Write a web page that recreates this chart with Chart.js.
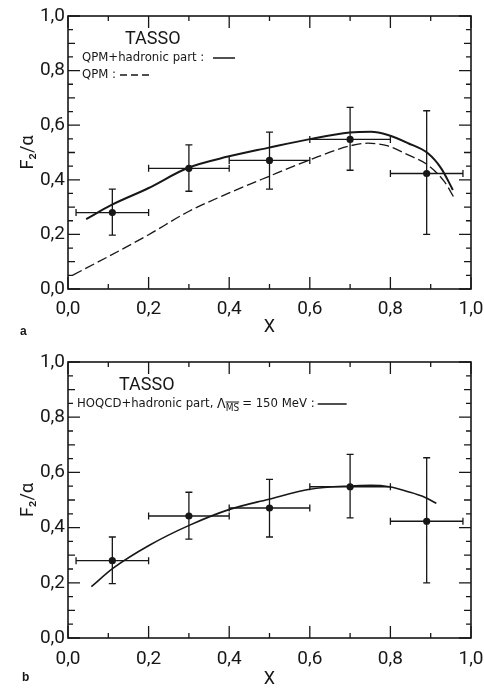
<!DOCTYPE html>
<html>
<head>
<meta charset="utf-8">
<script src="https://cdn.jsdelivr.net/npm/chart.js@4.4.1/dist/chart.umd.min.js"></script>
<style>
  body { margin: 0; background: #fff; width: 484px; height: 690px; overflow: hidden; position: relative; }
  canvas { position: absolute; left: 0; }
  #panelA { top: 0; }
  #panelB { top: 345px; }
</style>
</head>
<body>
<canvas id="panelA" width="484" height="345"></canvas>
<canvas id="panelB" width="484" height="345"></canvas>
<script>
// TASSO data points (same in both panels), x with bin range, y with error
const ptX   = [0.11, 0.30, 0.50, 0.70, 0.89];
const ptY   = [0.280, 0.442, 0.471, 0.548, 0.423];
const ptXlo = [0.02, 0.20, 0.40, 0.60, 0.80];
const ptXhi = [0.20, 0.40, 0.60, 0.80, 0.98];
const ptYlo = [0.197, 0.358, 0.366, 0.435, 0.200];
const ptYhi = [0.366, 0.528, 0.575, 0.665, 0.653];

// panel a : QPM + hadronic part (solid) and QPM (dashed)
const solidAx = [0.045, 0.108, 0.199, 0.298, 0.397, 0.496, 0.600, 0.699, 0.752, 0.794, 0.844, 0.893, 0.926, 0.955];
const solidAy = [0.256, 0.308, 0.369, 0.444, 0.485, 0.517, 0.549, 0.573, 0.576, 0.564, 0.534, 0.497, 0.442, 0.363];
const dashAx  = [0.012, 0.099, 0.199, 0.298, 0.397, 0.496, 0.600, 0.699, 0.744, 0.794, 0.844, 0.893, 0.934, 0.959];
const dashAy  = [0.051, 0.118, 0.198, 0.283, 0.350, 0.411, 0.473, 0.524, 0.534, 0.524, 0.491, 0.454, 0.393, 0.332];

// panel b : HOQCD + hadronic part
const solidBx = [0.058, 0.112, 0.203, 0.302, 0.401, 0.496, 0.600, 0.699, 0.752, 0.797, 0.844, 0.885, 0.914];
const solidBy = [0.186, 0.253, 0.337, 0.409, 0.466, 0.502, 0.539, 0.551, 0.553, 0.548, 0.530, 0.510, 0.488];

// axis ticks
const xTickVals  = [0, 0.2, 0.4, 0.6, 0.8, 1.0];
const yTickVals  = [0, 0.2, 0.4, 0.6, 0.8, 1.0];
const xMinorVals = [0.1, 0.3, 0.5, 0.7, 0.9];
const yMinorVals = [0.05, 0.1, 0.15, 0.25, 0.3, 0.35, 0.45, 0.5, 0.55, 0.65, 0.7, 0.75, 0.85, 0.9, 0.95];

const INK = '#171717';
const FONT = 'Roboto, "DejaVu Sans Condensed", sans-serif';
const SMALL = '"DejaVu Sans Condensed", "Liberation Sans", sans-serif';

const fmt = v => (Math.round(v * 10) / 10).toFixed(1).replace('.', ',');
const pts = (xs, ys) => xs.map((x, i) => ({x: x, y: ys[i]}));

// box round the plot and inward ticks on all four sides
const frameTicks = {
  id: 'frameTicks',
  afterDraw(chart) {
    const {ctx, chartArea: a, scales: {x, y}} = chart;
    ctx.save();
    ctx.strokeStyle = INK;
    ctx.lineWidth = 1.6;
    ctx.strokeRect(a.left, a.top, a.right - a.left, a.bottom - a.top);
    ctx.lineWidth = 1.3;
    ctx.beginPath();
    const xt = (v, len) => {
      const p = x.getPixelForValue(v);
      ctx.moveTo(p, a.bottom); ctx.lineTo(p, a.bottom - len);
      ctx.moveTo(p, a.top); ctx.lineTo(p, a.top + len);
    };
    const yt = (v, len) => {
      const p = y.getPixelForValue(v);
      ctx.moveTo(a.left, p); ctx.lineTo(a.left + len, p);
      ctx.moveTo(a.right, p); ctx.lineTo(a.right - len, p);
    };
    xTickVals.forEach(v => xt(v, 12));
    xMinorVals.forEach(v => xt(v, 5));
    yTickVals.forEach(v => yt(v, 12));
    yMinorVals.forEach(v => yt(v, Math.abs(v * 10 - Math.round(v * 10)) < 1e-6 ? 7 : 5));
    ctx.stroke();
    ctx.restore();
  }
};

// x and y error bars with small caps
const errorBars = {
  id: 'errorBars',
  beforeDatasetsDraw(chart) {
    const {ctx, scales: {x, y}} = chart;
    ctx.save();
    ctx.strokeStyle = INK;
    ctx.lineWidth = 1.3;
    ctx.beginPath();
    ptX.forEach((v, i) => {
      const px = x.getPixelForValue(v), py = y.getPixelForValue(ptY[i]);
      const x0 = x.getPixelForValue(ptXlo[i]), x1 = x.getPixelForValue(ptXhi[i]);
      const y0 = y.getPixelForValue(ptYlo[i]), y1 = y.getPixelForValue(ptYhi[i]);
      ctx.moveTo(x0, py); ctx.lineTo(x1, py);
      ctx.moveTo(x0, py - 3.5); ctx.lineTo(x0, py + 3.5);
      ctx.moveTo(x1, py - 3.5); ctx.lineTo(x1, py + 3.5);
      ctx.moveTo(px, y0); ctx.lineTo(px, y1);
      ctx.moveTo(px - 3.5, y0); ctx.lineTo(px + 3.5, y0);
      ctx.moveTo(px - 3.5, y1); ctx.lineTo(px + 3.5, y1);
    });
    ctx.stroke();
    ctx.restore();
  }
};

function line(ctx, x0, x1, yy, dash, w) {
  ctx.save();
  ctx.lineWidth = w;
  ctx.setLineDash(dash);
  ctx.beginPath();
  ctx.moveTo(x0, yy); ctx.lineTo(x1, yy);
  ctx.stroke();
  ctx.restore();
}

const textA = {
  id: 'textA',
  afterDraw(chart) {
    const ctx = chart.ctx;
    ctx.save();
    ctx.fillStyle = INK; ctx.strokeStyle = INK;
    ctx.textBaseline = 'middle';
    ctx.font = '18px ' + FONT;
    ctx.fillText('TASSO', 125, 39);
    ctx.font = '13px ' + SMALL;
    ctx.fillText('QPM+hadronic part :', 82, 58);
    line(ctx, 213, 235, 58, [], 1.5);
    ctx.fillText('QPM :', 82, 75);
    line(ctx, 120, 150, 75, [7, 4], 1.3);
    ctx.font = 'bold 12px "Liberation Sans", sans-serif';
    ctx.fillText('a', 20, 332);
    ctx.restore();
  }
};

const textB = {
  id: 'textB',
  afterDraw(chart) {
    const ctx = chart.ctx;
    ctx.save();
    ctx.fillStyle = INK; ctx.strokeStyle = INK;
    ctx.textBaseline = 'middle';
    ctx.font = '18px ' + FONT;
    ctx.fillText('TASSO', 119, 40);
    ctx.font = '13px ' + SMALL;
    let cx = 77;
    const part1 = 'HOQCD+hadronic part, ';
    ctx.fillText(part1, cx, 59);
    cx += ctx.measureText(part1).width;
    ctx.font = '14px ' + SMALL;
    ctx.fillText('\u039B', cx, 59);
    cx += ctx.measureText('\u039B').width;
    ctx.font = '10px ' + SMALL;
    const ms = 'MS';
    ctx.fillText(ms, cx, 63);
    const mw = ctx.measureText(ms).width;
    line(ctx, cx, cx + mw, 57, [], 1);
    cx += mw + 3;
    ctx.font = '13px ' + SMALL;
    ctx.fillText('= 150 MeV :', cx, 59);
    cx += ctx.measureText('= 150 MeV :').width;
    line(ctx, cx + 3, cx + 32, 59, [], 1.5);
    ctx.font = 'bold 12px "Liberation Sans", sans-serif';
    ctx.fillText('b', 22, 333);
    ctx.restore();
  }
};

function noPad(s) {
  s.paddingLeft = 0; s.paddingRight = 0; s.paddingTop = 0; s.paddingBottom = 0;
}

function makePanel(id, datasets, pad, xAxisH, xTickPad, xTitlePad, textPlugin) {
  return new Chart(document.getElementById(id), {
    type: 'line',
    data: {datasets: datasets},
    options: {
      responsive: false,
      animation: false,
      layout: {padding: {left: 0, right: 13, top: pad, bottom: 0}},
      plugins: {legend: {display: false}, tooltip: {enabled: false}},
      scales: {
        x: {
          type: 'linear', min: 0, max: 1,
          afterBuildTicks: s => { s.ticks = xTickVals.map(v => ({value: v})); },
          afterFit: s => { s.height = xAxisH; noPad(s); },
          grid: {display: false, drawTicks: false},
          border: {display: false},
          ticks: {callback: v => fmt(v), padding: xTickPad, maxRotation: 0, autoSkip: false,
                  color: INK, font: {family: FONT, size: 19}},
          title: {display: true, text: 'X', color: INK,
                  font: {family: FONT, size: 18, lineHeight: 1}, padding: {top: 0, bottom: xTitlePad}}
        },
        y: {
          type: 'linear', min: 0, max: 1,
          afterBuildTicks: s => { s.ticks = yTickVals.map(v => ({value: v})); },
          afterFit: s => { s.width = 68; noPad(s); },
          grid: {display: false, drawTicks: false},
          border: {display: false},
          ticks: {callback: v => fmt(v), padding: 3, color: INK, font: {family: FONT, size: 19}},
          title: {display: true, text: 'F\u2082/\u03B1', color: INK,
                  font: {family: FONT, size: 18, lineHeight: 1}, padding: {top: 19, bottom: 0}}
        }
      }
    },
    plugins: [errorBars, frameTicks, textPlugin]
  });
}

const dots = {
  type: 'scatter', data: pts(ptX, ptY), showLine: false,
  pointRadius: 3.6, pointBackgroundColor: INK, pointBorderWidth: 0
};

makePanel('panelA', [
  {data: pts(solidAx, solidAy), borderColor: INK, borderWidth: 2, pointRadius: 0, cubicInterpolationMode: 'monotone'},
  {data: pts(dashAx, dashAy), borderColor: INK, borderWidth: 1.3, borderDash: [10, 4], pointRadius: 0, cubicInterpolationMode: 'monotone'},
  Object.assign({}, dots)
], 16, 56, 9, 9, textA);

makePanel('panelB', [
  {data: pts(solidBx, solidBy), borderColor: INK, borderWidth: 1.6, pointRadius: 0, cubicInterpolationMode: 'monotone'},
  Object.assign({}, dots, {data: pts(ptX, ptY)})
], 17, 52, 10, 2, textB);
</script>
</body>
</html>
